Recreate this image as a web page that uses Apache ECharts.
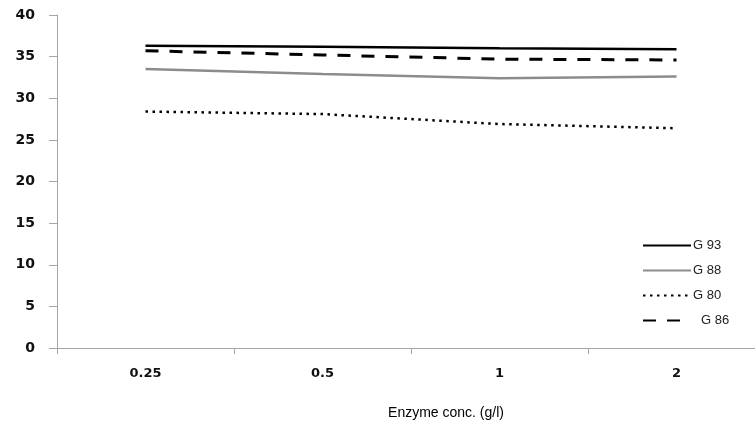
<!DOCTYPE html>
<html>
<head>
<meta charset="utf-8">
<script src="https://cdn.jsdelivr.net/npm/echarts@6/dist/echarts.min.js"></script>
<style>
  html, body { margin: 0; padding: 0; background: #fff; }
  #chart { width: 755px; height: 426px; }
</style>
</head>
<body>
<div id="chart"></div>
<script>
// x categories (enzyme concentration, g/l)
const categories = ['0.25', '0.5', '1', '2'];
// series values
const g93 = [36.3, 36.2, 36.0, 35.9];
const g88 = [33.5, 32.9, 32.4, 32.6];
const g80 = [28.4, 28.1, 26.9, 26.4];
const g86 = [35.7, 35.2, 34.7, 34.6];

const tickFont = { fontFamily: 'DejaVu Sans', fontWeight: 'bold', fontSize: 13, color: '#111' };
const axisGrey = '#a6a6a6';

const myChart = echarts.init(document.getElementById('chart'), null, { renderer: 'canvas' });
myChart.setOption({
    animation: false,
    backgroundColor: '#fff',
    title: {
        text: 'Enzyme conc. (g/l)',
        left: 441,
        top: 401,
        textAlign: 'center',
        textStyle: { fontFamily: 'Liberation Sans', fontWeight: 'normal', fontSize: 14, color: '#000' }
    },
    grid: { left: 57, top: 15, width: 708, height: 333, outerBoundsMode: 'none', containLabel: false },
    legend: {
        orient: 'vertical',
        left: 637,
        top: 234,
        itemWidth: 48,
        itemHeight: 10,
        itemGap: 12,
        itemStyle: { opacity: 0 },
        textStyle: { fontFamily: 'Liberation Sans', fontSize: 13, color: '#222', padding: [0, 0, 0, -3] },
        data: ['G 93', 'G 88', 'G 80', { name: 'G 86', textStyle: { padding: [0, 0, 0, 5] } }]
    },
    xAxis: {
        type: 'category',
        data: categories,
        boundaryGap: true,
        axisLine: { lineStyle: { color: axisGrey, width: 1 } },
        axisTick: { show: true, length: 6, lineStyle: { color: axisGrey } },
        axisLabel: Object.assign({ margin: 19 }, tickFont)
    },
    yAxis: {
        type: 'value',
        min: 0,
        max: 40,
        interval: 5,
        splitLine: { show: false },
        axisLine: { show: true, lineStyle: { color: axisGrey, width: 1 } },
        axisTick: { show: true, length: 8, lineStyle: { color: axisGrey } },
        axisLabel: Object.assign({ margin: 22 }, tickFont, { fontSize: 14 })
    },
    series: [
        {
            name: 'G 93', type: 'line', data: g93, symbol: 'none',
            itemStyle: { color: '#000' },
            lineStyle: { color: '#000', width: 2.5 }
        },
        {
            name: 'G 88', type: 'line', data: g88, symbol: 'none',
            itemStyle: { color: '#8c8c8c' },
            lineStyle: { color: '#8c8c8c', width: 2.5 }
        },
        {
            name: 'G 80', type: 'line', data: g80, symbol: 'none',
            itemStyle: { color: '#000' },
            lineStyle: { color: '#000', width: 2.5, type: [2.5, 4.5] }
        },
        {
            name: 'G 86', type: 'line', data: g86, symbol: 'none',
            itemStyle: { color: '#000' },
            lineStyle: { color: '#000', width: 3, type: [13, 11] }
        }
    ]
});
</script>
</body>
</html>
